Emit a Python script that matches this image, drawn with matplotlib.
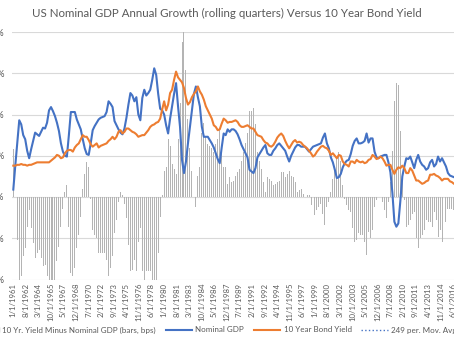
import numpy as np
import pandas as pd
import matplotlib
matplotlib.use("Agg")
import matplotlib.pyplot as plt
from matplotlib.lines import Line2D
from matplotlib.patches import Rectangle
from matplotlib.legend_handler import HandlerPatch
from matplotlib.ticker import FuncFormatter

plt.rcParams['font.family'] = ['Lato', 'DejaVu Sans']

# Quarterly data, 1961 Q1 onwards (%, year over year)
gdp_growth = [
    0.9, 3.8, 6.5, 9.3,      # 1961
    8.8, 7.5, 7.0, 5.6,      # 1962
    4.7, 5.8, 6.8, 7.8,      # 1963
    7.6, 7.4, 7.9, 8.4,      # 1964
    8.3, 9.0, 10.5, 10.9,    # 1965
    10.4, 9.8, 9.0, 8.0,     # 1966
    6.5, 5.5, 5.0, 4.9,      # 1967
    7.5, 10.3, 10.3, 10.3,   # 1968
    9.4, 8.8, 8.2, 7.0,      # 1969
    5.9, 5.2, 5.1, 6.5,      # 1970
    8.1, 8.6, 9.0, 9.4,      # 1971
    9.6, 9.7, 9.8, 10.3,     # 1972
    11.6, 11.3, 10.9, 9.2,   # 1973
    8.7, 8.2, 7.8, 7.6,      # 1974
    8.3, 9.6, 11.2, 12.6,    # 1975
    12.3, 11.6, 12.1, 10.0,  # 1976
    9.3, 12.0, 13.0, 12.3,   # 1977
    12.6, 13.0, 14.2, 15.6,  # 1978
    14.8, 12.5, 10.7, 10.5,  # 1979
    10.0, 8.7, 7.7, 9.5,     # 1980
    11.0, 12.5, 13.8, 11.0,  # 1981
    8.5, 4.5, 2.9, 4.3,      # 1982
    6.5, 8.5, 10.5, 12.5,    # 1983
    13.4, 12.1, 11.0, 8.5,   # 1984
    7.3, 7.3, 7.3, 6.9,      # 1985
    6.5, 6.0, 5.3, 4.6,      # 1986
    4.1, 6.0, 7.7, 7.5,      # 1987
    8.2, 7.9, 8.2, 8.2,      # 1988
    8.0, 7.6, 7.0, 6.3,      # 1989
    5.8, 5.3, 4.8, 3.3,      # 1990
    3.1, 2.9, 3.5, 4.8,      # 1991
    5.2, 5.6, 6.0, 6.3,      # 1992
    5.3, 5.1, 5.1, 5.6,      # 1993
    5.9, 6.3, 6.5, 6.2,      # 1994
    5.9, 5.6, 4.9, 4.3,      # 1995
    5.0, 5.5, 6.0, 6.3,      # 1996
    6.3, 6.1, 6.1, 6.1,      # 1997
    5.8, 5.5, 5.8, 6.1,      # 1998
    6.2, 6.3, 6.4, 6.5,      # 1999
    7.2, 7.7, 6.5, 5.9,      # 2000
    4.8, 4.2, 3.3, 2.3,      # 2001
    2.4, 2.8, 3.6, 4.1,      # 2002
    4.4, 4.5, 5.2, 6.2,      # 2003
    6.8, 7.1, 6.5, 6.5,      # 2004
    6.6, 6.8, 7.7, 6.6,      # 2005
    7.1, 7.1, 5.5, 4.8,      # 2006
    4.7, 4.9, 5.0, 5.1,      # 2007
    5.1, 4.2, 3.0, 0.5,      # 2008
    -3.0, -3.6, -3.2, -0.5,  # 2009
    2.5, 3.7, 4.7, 4.6,      # 2010
    4.9, 4.2, 3.5, 4.5,      # 2011
    5.1, 4.3, 3.9, 3.7,      # 2012
    3.3, 3.5, 4.2, 4.5,      # 2013
    3.7, 4.0, 4.9, 4.3,      # 2014
    4.7, 4.2, 3.7, 2.9,      # 2015
    2.6, 2.5, 2.4, 2.6,      # 2016
]

bond_yield = [
    3.8, 3.8, 3.9, 3.9,      # 1961
    4.0, 3.9, 3.9, 3.8,      # 1962
    3.9, 3.9, 4.0, 4.1,      # 1963
    4.2, 4.2, 4.2, 4.2,      # 1964
    4.2, 4.2, 4.2, 4.4,      # 1965
    4.6, 4.8, 5.1, 5.0,      # 1966
    4.7, 4.8, 5.3, 5.6,      # 1967
    5.7, 5.7, 5.5, 6.0,      # 1968
    6.3, 6.5, 7.0, 7.5,      # 1969
    7.3, 7.3, 6.9, 6.4,      # 1970
    6.1, 6.3, 6.5, 6.0,      # 1971
    6.2, 6.3, 6.4, 6.5,      # 1972
    6.8, 7.0, 7.3, 7.0,      # 1973
    7.3, 7.9, 8.1, 7.7,      # 1974
    7.9, 8.3, 8.3, 8.1,      # 1975
    7.9, 7.8, 7.6, 7.3,      # 1976
    7.4, 7.5, 7.5, 7.8,      # 1977
    8.1, 8.5, 8.7, 8.8,      # 1978
    9.0, 9.1, 9.5, 10.6,     # 1979
    11.6, 10.5, 11.2, 12.6,  # 1980
    13.0, 14.2, 15.2, 14.5,  # 1981
    14.2, 13.9, 13.2, 12.0,  # 1982
    11.2, 11.5, 12.1, 12.5,  # 1983
    12.8, 13.4, 12.8, 12.4,  # 1984
    11.8, 11.0, 10.5, 10.0,  # 1985
    9.5, 8.7, 8.5, 8.1,      # 1986
    8.2, 8.9, 9.5, 9.3,      # 1987
    9.0, 9.1, 9.1, 9.2,      # 1988
    9.3, 9.1, 8.7, 8.5,      # 1989
    8.5, 8.6, 8.7, 8.5,      # 1990
    8.3, 8.3, 7.9, 7.5,      # 1991
    7.4, 7.3, 6.9, 6.6,      # 1992
    6.5, 6.2, 6.1, 6.3,      # 1993
    6.7, 7.2, 7.5, 7.7,      # 1994
    7.4, 6.8, 6.3, 5.9,      # 1995
    6.3, 6.7, 6.9, 6.6,      # 1996
    6.7, 6.6, 6.3, 6.1,      # 1997
    5.9, 5.6, 5.3, 4.9,      # 1998
    5.1, 5.5, 5.8, 6.1,      # 1999
    6.2, 6.0, 5.9, 5.6,      # 2000
    5.1, 5.3, 5.0, 4.7,      # 2001
    5.1, 5.0, 4.3, 4.0,      # 2002
    3.9, 3.7, 4.3, 4.3,      # 2003
    4.1, 4.5, 4.3, 4.2,      # 2004
    4.3, 4.1, 4.2, 4.5,      # 2005
    4.6, 5.1, 4.9, 4.6,      # 2006
    4.7, 4.9, 4.7, 4.3,      # 2007
    3.8, 3.9, 3.9, 3.3,      # 2008
    2.8, 3.3, 3.6, 3.5,      # 2009
    3.8, 3.5, 2.9, 2.9,      # 2010
    3.5, 3.2, 2.6, 2.0,      # 2011
    2.0, 1.8, 1.6, 1.7,      # 2012
    1.9, 2.0, 2.7, 2.7,      # 2013
    2.8, 2.6, 2.5, 2.3,      # 2014
    2.0, 2.2, 2.2, 2.2,      # 2015
    1.9, 1.8, 1.6, 1.8,      # 2016
]

tick_labels = [
    '1/1/1961', '8/1/1962', '3/1/1964', '10/1/1965', '5/1/1967', '12/1/1968',
    '7/1/1970', '2/1/1972', '9/1/1973', '4/1/1975', '11/1/1976', '6/1/1978',
    '1/1/1980', '8/1/1981', '3/1/1983', '10/1/1984', '5/1/1986', '12/1/1987',
    '7/1/1989', '2/1/1991', '9/1/1992', '4/1/1994', '11/1/1995', '6/1/1997',
    '1/1/1999', '8/1/2000', '3/1/2002', '10/1/2003', '5/1/2005', '12/1/2006',
    '7/1/2008', '2/1/2010', '9/1/2011', '4/1/2013', '11/1/2014', '6/1/2016',
]

BLUE = '#4472C4'
ORANGE = '#ED7D31'
GRAY = '#B4B4B4'
TEXT = '#595959'
GRID = '#D9D9D9'


def to_months(d):
    return (d.year - 1961) * 12 + d.month - 1


dates = pd.date_range('1961-01-01', periods=len(gdp_growth), freq='QS')
x = np.array([to_months(d) for d in dates])
gdp = np.array(gdp_growth)
yld = np.array(bond_yield)
spread_bps = (yld - gdp) * 100  # 10 yr yield minus nominal GDP

tick_pos = [to_months(pd.to_datetime(t, format='%m/%d/%Y')) for t in tick_labels]

W, H = 454, 341
fig = plt.figure(figsize=(W / 100, H / 100), dpi=100)
left, right = 12 / W, 1.0
bottom, top = 1 - 279.5 / H, 1 - 32 / H
ax_bar = fig.add_axes([left, bottom, right - left, top - bottom])
ax_line = ax_bar.twinx()

# bars (secondary scale, bps)
ax_bar.bar(x, spread_bps, width=1.5, color=GRAY, linewidth=0, zorder=2)
ax_bar.set_ylim(-500, 1000)
ax_bar.set_yticks(np.arange(-500, 1001, 250))
ax_bar.grid(axis='y', color=GRID, linewidth=0.8, zorder=0)
ax_bar.set_axisbelow(True)
ax_bar.tick_params(axis='y', left=False, right=False, labelleft=False, labelright=False)

# lines (primary scale, %)
ax_line.plot(x, gdp, color=BLUE, linewidth=1.5, solid_joinstyle='round')
ax_line.plot(x, yld, color=ORANGE, linewidth=1.5, solid_joinstyle='round')
ax_line.set_ylim(-10, 20)
ax_line.set_yticks(np.arange(-10, 21, 5))
ax_line.yaxis.tick_left()
ax_line.yaxis.set_major_formatter(FuncFormatter(lambda v, p: f'{v:.0f}%'))
ax_line.tick_params(axis='y', length=0, pad=5.5, labelsize=6.5, labelcolor=TEXT)

ax_bar.set_xlim(-1.96, (W - 13.3) / 0.6616)
ax_bar.set_xticks(tick_pos)
ax_bar.set_xticklabels(tick_labels, rotation=90)
ax_bar.tick_params(axis='x', length=0, pad=2.5, labelsize=5.6, labelcolor=TEXT)

for a in (ax_bar, ax_line):
    for s in a.spines.values():
        s.set_visible(False)

fig.text(227 / W, 1 - 13.5 / H,
         'US Nominal GDP Annual Growth (rolling quarters) Versus 10 Year Bond Yield',
         ha='center', va='center', fontsize=8.3, color=TEXT)


def small_square(legend, orig_handle, xdescent, ydescent, width, height, fontsize):
    s = height * 0.9
    return Rectangle((width - s - xdescent, (height - s) / 2 - ydescent), s, s)


bar_handle = Rectangle((0, 0), 1, 1, color=GRAY)
handles = [
    bar_handle,
    Line2D([], [], color=BLUE, linewidth=1.5),
    Line2D([], [], color=ORANGE, linewidth=1.5),
    Line2D([], [], color=BLUE, linewidth=1, linestyle=':'),
]
labels = [
    '10 Yr. Yield Minus Nominal GDP (bars, bps)',
    'Nominal GDP',
    '10 Year Bond Yield',
    '249 per. Mov. Avg. (Nominal GDP)',
]
fig.legend(handles, labels, loc='center', bbox_to_anchor=(243 / W, 1 - 330 / H),
           ncol=4, frameon=False, fontsize=5.8, labelcolor=TEXT,
           handlelength=3.3, handletextpad=0.4, columnspacing=1.2,
           handler_map={bar_handle: HandlerPatch(patch_func=small_square)})

fig.savefig('out.png', dpi=100)
